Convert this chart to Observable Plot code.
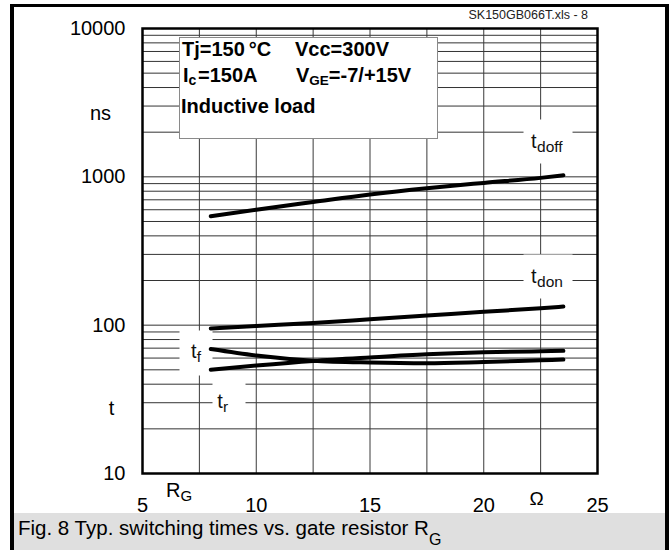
<!DOCTYPE html>
<html>
<head>
<meta charset="utf-8">
<script src="https://cdn.jsdelivr.net/npm/d3@7"></script>
<script src="https://cdn.jsdelivr.net/npm/@observablehq/plot@0.6"></script>
<style>
  body { margin: 0; background: #fff; font-family: "Liberation Sans", Arial, Helvetica, sans-serif; }
  #page { position: relative; width: 670px; height: 550px; overflow: hidden; background: #fff; }
  #chart { position: absolute; left: 0; top: 0; }
  .lbl { position: absolute; white-space: nowrap; line-height: 1; color: #000; }
  .sub { position: relative; }
  #legend { position: absolute; left: 179px; top: 37px; width: 259px; height: 102px;
            box-sizing: border-box; background: #fff; border: 1px solid #8a8a8a; }
  #caption { position: absolute; left: 14px; top: 513px; width: 651px; height: 37px; background: #dfdfdf; }
  #outline { position: absolute; left: 10px; top: 4px; width: 659px; height: 546px; box-sizing: border-box;
             border-left: 4px solid #000; border-right: 4px solid #000; border-top: 3px solid #000;
             pointer-events: none; }
</style>
</head>
<body>
<div id="page">
  <div id="chart"></div>
  <div id="caption"></div>
  <div id="legend"></div>
  <div id="outline"></div>
</div>
<script>
// Gate resistor values (Ω) at which the switching times are read
const rg = [8, 10, 12.5, 15, 17.5, 20, 22.5, 23.5];

// Switching times in ns
const tdoff = [542, 600, 676, 760, 838, 910, 984, 1025];
const tdon  = [95, 98.8, 103.5, 109.5, 116, 123, 130, 133.4];
const tf    = [69, 62.4, 57.6, 56.0, 55.4, 56.5, 58.0, 58.6];
const tr    = [50, 53.4, 57.4, 60.6, 63.6, 65.6, 66.7, 67.1];

// Axis ticks
const xTicks = [5, 10, 15, 20, 25];
const yTicks = [10, 100, 1000, 10000];
const xGrid = [5, 7.5, 10, 12.5, 15, 17.5, 20, 22.5, 25];

const series = [
  {name: "t_doff", values: tdoff},
  {name: "t_don", values: tdon},
  {name: "t_f", values: tf},
  {name: "t_r", values: tr}
];
const rows = series.flatMap(s => rg.map((R, i) => ({series: s.name, R, t: s.values[i]})));
const at = (name, R) => rows.filter(d => d.series === name && d.R === R);

// Log grid: every integer multiple within each decade
const yGrid = d3.scaleLog().domain([10, 10000]).ticks();

// Rectangular knock-out behind the curve names
const box = (w, h) => ({draw(ctx) { ctx.rect(-w / 2, -h / 2, w, h); }});

const labels = [
  {name: "t_doff", R: 22.5, sub: "doff", b: [7.4, -36.3, box(49, 44)], t: [-9.6, -36.3], s: [-3.6, -31.3]},
  {name: "t_don",  R: 22.5, sub: "don",  b: [7.4, -31.7, box(49, 44)], t: [-9.6, -32.1], s: [-3.6, -26.7]},
  {name: "t_f",    R: 8,    sub: "f",    b: [-14.75, 4, box(33, 45)],  t: [-19.75, 2.1],  s: [-14.0, 7.5]},
  {name: "t_r",    R: 8,    sub: "r",    b: [18.25, 28.8, box(33, 44)], t: [6.5, 31.7],   s: [12.3, 37.5]}
];

const chart = Plot.plot({
  width: 670,
  height: 512,
  marginLeft: 142,
  marginRight: 73,
  marginTop: 28,
  marginBottom: 39,
  style: {fontFamily: "'Liberation Sans', Arial, Helvetica, sans-serif", fontSize: "20px", color: "#000", background: "transparent", overflow: "visible"},
  x: {domain: [5, 25], label: null},
  y: {type: "log", domain: [10, 10000], label: null},
  marks: [
    Plot.ruleY(yGrid, {stroke: "#333", strokeWidth: 1}),
    Plot.ruleX(xGrid, {stroke: "#3a3a3a", strokeWidth: 1}),
    ...labels.map(l => Plot.dot(at(l.name, l.R), {
      x: "R", y: "t", r: 10, symbol: l.b[2], fill: "white", stroke: "none", dx: l.b[0], dy: l.b[1]
    })),
    Plot.line(rows, {x: "R", y: "t", z: "series", stroke: "#000", strokeWidth: 4,
      curve: "monotone-x", strokeLinecap: "round", strokeLinejoin: "round"}),
    ...labels.flatMap(l => [
      Plot.text(at(l.name, l.R), {x: "R", y: "t", text: () => "t", textAnchor: "start",
        fontSize: 20, fill: "#111", dx: l.t[0], dy: l.t[1]}),
      Plot.text(at(l.name, l.R), {x: "R", y: "t", text: () => l.sub, textAnchor: "start",
        fontSize: 15.5, fill: "#111", dx: l.s[0], dy: l.s[1]})
    ]),
    Plot.axisX({ticks: xTicks, tickSize: 0, tickPadding: 24.5, tickFormat: d => String(d), fontSize: 20}),
    Plot.axisY({ticks: yTicks, tickSize: 0, tickPadding: 17, tickFormat: d => String(d), fontSize: 20}),
    Plot.frame({stroke: "#000", strokeWidth: 2.5})
  ]
});
document.getElementById("chart").appendChild(chart);

// Static text placed by baseline
const page = document.getElementById("page");
function put(html, x, base, size, anchor = "start", weight = "normal", color = "#000") {
  const el = document.createElement("div");
  el.className = "lbl";
  el.innerHTML = html;
  el.style.fontSize = size + "px";
  el.style.fontWeight = weight;
  el.style.color = color;
  el.style.left = x + "px";
  el.style.top = (base - 0.8465 * size) + "px";
  if (anchor === "end") el.style.transform = "translateX(-100%)";
  if (anchor === "middle") el.style.transform = "translateX(-50%)";
  page.appendChild(el);
  return el;
}
const sub = (txt, size, shift) => `<span class="sub" style="font-size:${size}px;top:${shift}px">${txt}</span>`;

put("SK150GB066T.xls - 8", 588, 19.5, 12.5, "end", "normal", "#222");
put("ns", 111, 120, 20, "end");
put("t", 111.5, 415, 20, "middle");
put("R" + sub("G", 15, 4), 166, 497, 20);
put("Ω", 536.5, 505, 19, "middle");

put("Tj=150\u2009°C", 182, 55.5, 20, "start", "bold");
put("Vcc=300V", 295, 55.5, 20, "start", "bold");
put("I" + sub("c", 14, 3), 183, 82, 20, "start", "bold");
put("=150A", 198, 82, 20, "start", "bold");
put("V" + sub("GE", 13.5, 3) + "=-7/+15V", 296, 82, 20, "start", "bold");
put("Inductive load", 181, 113, 20, "start", "bold");

put("Fig. 8 Typ. switching times vs. gate resistor R" + sub("G", 16, 10), 18, 535, 20.5);
</script>
</body>
</html>
